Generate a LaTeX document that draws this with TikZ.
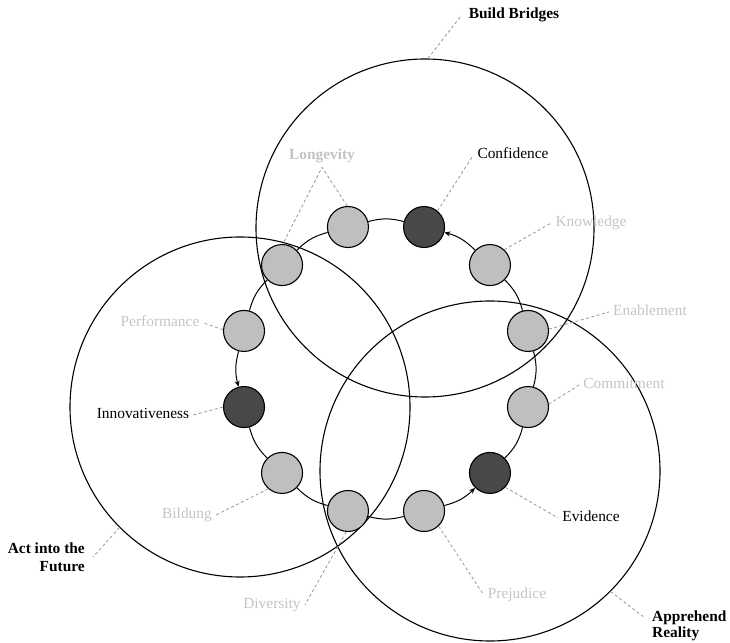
\documentclass[tikz,border=0pt]{standalone}
\usepackage{fontspec}
\setmainfont{Liberation Serif}
\usetikzlibrary{arrows.meta}
\definecolor{nodedark}{RGB}{72,72,72}
\definecolor{nodelight}{RGB}{191,191,191}
\definecolor{faint}{RGB}{196,196,196}
\definecolor{leadergray}{RGB}{150,150,150}

\begin{document}
\begin{tikzpicture}[x=1pt,y=1pt,
  bigring/.style={circle, draw=black, line width=1.1pt, minimum size=#1, inner sep=0},
  facet/.style={circle, draw=black, line width=1.1pt, minimum size=41pt, inner sep=0, fill=nodelight},
  keyfacet/.style={facet, fill=nodedark},
  link/.style={line width=1pt, draw=black},
  flow/.style={link, -{Stealth[length=6pt,width=5pt]}},
  leader/.style={draw=leadergray, dash pattern=on 3pt off 2.5pt, line width=0.8pt},
  lbl/.style={font=\fontsize{15.4}{17}\selectfont, text height=10.5pt, text depth=3pt, inner sep=4pt},
  dim/.style={lbl, text=faint},
  title/.style={font=\fontsize{15.4}{17.5}\selectfont\bfseries, inner sep=0},
]
\useasboundingbox (0,0) rectangle (730,642);

% the three overlapping domains
\node[bigring=338pt] (bridges) at (425,414) {};
\node[bigring=340pt] (future)  at (240,235) {};
\node[bigring=340pt] (reality) at (490,171) {};

% the ring of twelve facets
\begin{scope}[shift={(386,273)}]
  \node[facet]    (enab)  at (15:147)  {};
  \node[facet]    (know)  at (45:147)  {};
  \node[keyfacet] (conf)  at (75:147)  {};
  \node[facet]    (longA) at (105:147) {};
  \node[facet]    (longB) at (135:147) {};
  \node[facet]    (perf)  at (165:147) {};
  \node[keyfacet] (innov) at (195:147) {};
  \node[facet]    (bild)  at (225:147) {};
  \node[facet]    (div)   at (255:147) {};
  \node[facet]    (prej)  at (285:147) {};
  \node[keyfacet] (evid)  at (315:147) {};
  \node[facet]    (comm)  at (345:147) {};
\end{scope}

% arcs between neighbouring facets (counter-clockwise)
\draw[link] (enab)  to[bend right=15] (know);
\draw[flow] (know)  to[bend right=15] (conf);
\draw[link] (conf)  to[bend right=15] (longA);
\draw[link] (longA) to[bend right=15] (longB);
\draw[link] (longB) to[bend right=15] (perf);
\draw[flow] (perf)  to[bend right=15] (innov);
\draw[link] (innov) to[bend right=15] (bild);
\draw[link] (bild)  to[bend right=15] (div);
\draw[link] (div)   to[bend right=15] (prej);
\draw[flow] (prej)  to[bend right=15] (evid);
\draw[link] (evid)  to[bend right=15] (comm);
\draw[link] (comm)  to[bend right=15] (enab);

% labels
\node[title] (tBridges) at (514,627) {Build Bridges};
\node[title, font=\fontsize{15.4}{16}\selectfont\bfseries, align=left, anchor=north west] (tReality) at (652,31.5) {Apprehend\\Reality};
\node[title, align=right, anchor=north east] (tFuture) at (85,99.3) {Act into the\\Future};

\node[lbl] (tConf)  at (513,487) {Confidence};
\node[lbl] (tEvid)  at (591,124) {Evidence};
\node[lbl] (tInnov) at (143,227) {Innovativeness};
\node[dim] (tKnow)  at (591,419) {Knowledge};
\node[dim] (tEnab)  at (650,330) {Enablement};
\node[dim] (tComm)  at (624,257) {Commitment};
\node[dim] (tPrej)  at (517,47)  {Prejudice};
\node[dim] (tDiv)   at (272,37)  {Diversity};
\node[dim] (tBild)  at (187,127) {Bildung};
\node[dim] (tPerf)  at (160,319) {Performance};
\node[title, text=faint] (tLong) at (322,486.3) {Longevity};

% dashed leaders
\draw[leader] (bridges.89) -- ([xshift=-7pt]tBridges.west);
\draw[leader] (reality.-45) -- ([shift={(-9pt,-6pt)}]tReality.north west);
\draw[leader] (future.225) -- ([xshift=8pt]tFuture.east);
\draw[leader] (conf.50)  -- (tConf.west);
\draw[leader] (know.47)  -- (tKnow.west);
\draw[leader] (enab.5)   -- (tEnab.west);
\draw[leader] (comm.8)   -- (tComm.west);
\draw[leader] (evid.-43) -- (tEvid.west);
\draw[leader] (prej.-46) -- (tPrej.west);
\draw[leader] (div.-95)  -- (tDiv.east);
\draw[leader] (bild.229) -- (tBild.east);
\draw[leader] (innov.180) -- (tInnov.east);
\draw[leader] (perf.177) -- (tPerf.east);
\draw[leader] (longA.92) -- ([yshift=-4.4pt]tLong.south) -- (longB.88);
\end{tikzpicture}
\end{document}
